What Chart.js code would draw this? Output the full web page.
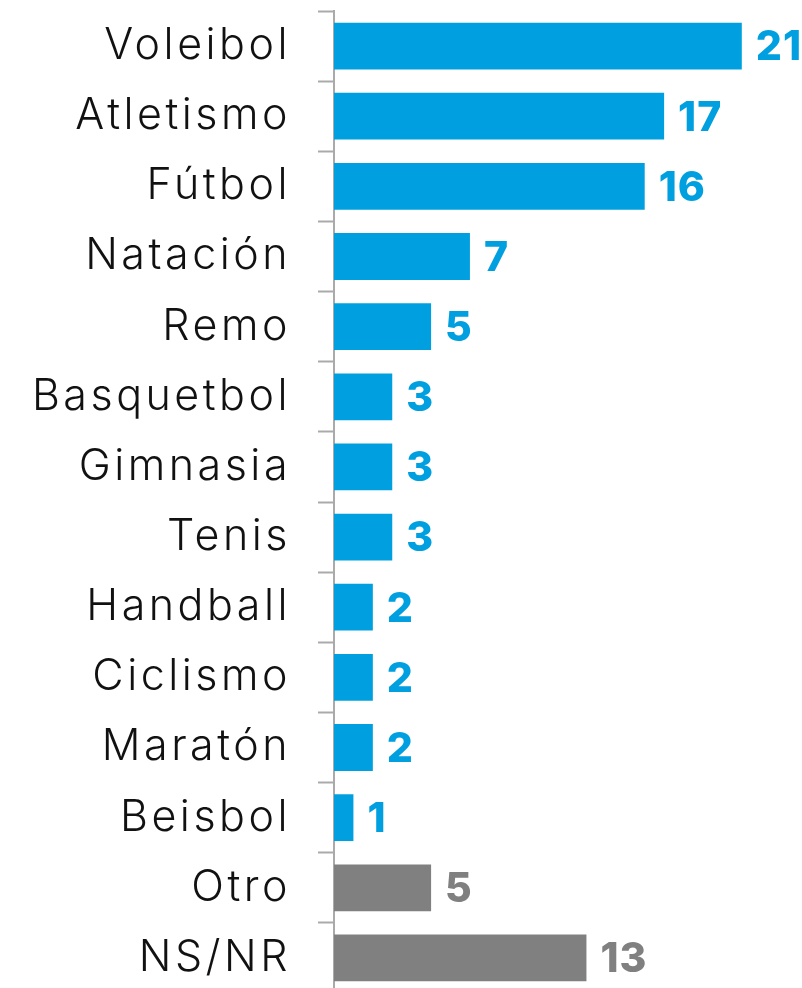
<!DOCTYPE html>
<html>
<head>
<meta charset="utf-8">
<script src="https://cdn.jsdelivr.net/npm/chart.js@4"></script>
<style>
  html, body { margin: 0; padding: 0; background: #fff; overflow: hidden; }
  #wrap { width: 802px; height: 996px; position: relative; }
</style>
</head>
<body>
<div id="wrap"><canvas id="sportsChart"></canvas></div>
<script>
const sports = ["Voleibol", "Atletismo", "Fútbol", "Natación", "Remo", "Basquetbol", "Gimnasia", "Tenis", "Handball", "Ciclismo", "Maratón", "Beisbol", "Otro", "NS/NR"];
const counts = [21, 17, 16, 7, 5, 3, 3, 3, 2, 2, 2, 1, 5, 13];
const barColors = counts.map((v, i) => i >= 12 ? "#808080" : "#00a0e0");

// a bit of letter spacing to get closer to the original wide font
const spacing = {
  id: "spacing",
  beforeDraw(chart) { chart.ctx.letterSpacing = "3.5px"; }
};

// value labels at the end of each bar
const valueLabels = {
  id: "valueLabels",
  afterDatasetsDraw(chart) {
    const ctx = chart.ctx;
    const meta = chart.getDatasetMeta(0);
    ctx.save();
    ctx.letterSpacing = "1px";
    ctx.font = "800 41px Inter, sans-serif";
    ctx.textBaseline = "middle";
    ctx.textAlign = "left";
    meta.data.forEach((bar, i) => {
      ctx.fillStyle = barColors[i];
      ctx.fillText(String(counts[i]), bar.x + 14, bar.y + 2);
    });
    ctx.restore();
  }
};

new Chart(document.getElementById("sportsChart"), {
  type: "bar",
  data: {
    labels: sports,
    datasets: [{
      data: counts,
      backgroundColor: barColors,
      borderWidth: 0,
      barPercentage: 0.667,
      categoryPercentage: 1
    }]
  },
  options: {
    indexAxis: "y",
    responsive: true, maintainAspectRatio: false,
    animation: false,
    layout: { padding: { top: 11, bottom: 3, left: 0, right: 0 } },
    plugins: { legend: { display: false }, tooltip: { enabled: false } },
    scales: {
      x: { display: false, min: 0, max: 24.1 },
      y: {
        afterFit: s => { s.width = 334; s.paddingTop = 0; s.paddingBottom = 0; },
        border: { color: "#aaaaaa", width: 2 },
        grid: { drawOnChartArea: false, tickLength: 16, tickWidth: 2, color: "#aaaaaa", offset: true },
        ticks: { color: "#111111", padding: 27, font: { family: "Inter, sans-serif", size: 43, weight: 300 } }
      }
    }
  },
  plugins: [spacing, valueLabels]
});
</script>
</body>
</html>
